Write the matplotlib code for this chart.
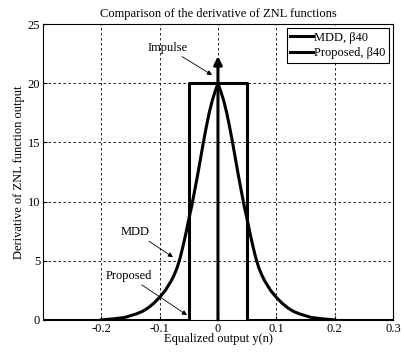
import matplotlib
matplotlib.use("Agg")
import matplotlib.pyplot as plt

plt.rcParams['font.family'] = ['Liberation Serif', 'DejaVu Serif']

# MDD derivative curve, right half; mirrored below
mdd_half_x = [0.0, 0.005, 0.01, 0.015, 0.02, 0.025, 0.03, 0.035, 0.04, 0.045, 0.05,
              0.055, 0.06, 0.065, 0.07, 0.075, 0.08, 0.09, 0.1, 0.11, 0.12, 0.13,
              0.14, 0.16, 0.18, 0.2]
mdd_half_y = [20.0, 19.3, 18.5, 17.5, 16.3, 15.0, 13.6, 12.2, 10.9, 9.6, 8.5,
              7.3, 6.2, 5.2, 4.4, 3.8, 3.3, 2.5, 1.9, 1.4, 1.0, 0.7,
              0.5, 0.2, 0.08, 0.0]
mdd_x = [-v for v in mdd_half_x[::-1]] + mdd_half_x[1:]
mdd_y = mdd_half_y[::-1] + mdd_half_y[1:]

# Proposed (rectangular) derivative
prop_x = [-0.3, -0.05, -0.05, 0.05, 0.05, 0.3]
prop_y = [0, 0, 20, 20, 0, 0]

# impulse at zero
imp_x = 0.0
imp_top = 22.3

fs = 9

fig = plt.figure(figsize=(4.04, 3.55), dpi=100)
ax = fig.add_axes([0.106, 0.099, 0.867, 0.833])

ax.plot(mdd_x, mdd_y, color='black', linewidth=2.2, label='MDD, β40')
ax.plot(prop_x, prop_y, color='black', linewidth=2.2, label='Proposed, β40')
ax.annotate('', xy=(imp_x, imp_top), xytext=(imp_x, 0),
            arrowprops=dict(arrowstyle='-|>', color='black', lw=2.2,
                            mutation_scale=12, shrinkA=0, shrinkB=0))

arrow = dict(arrowstyle='-|>', color='black', lw=0.6, mutation_scale=7,
             shrinkA=0, shrinkB=0)
ax.annotate('Impulse', xy=(-0.01, 20.7), xytext=(-0.086, 23.0),
            ha='center', va='center', fontsize=fs, arrowprops=arrow)
ax.annotate('MDD', xy=(-0.077, 5.3), xytext=(-0.141, 7.4),
            ha='center', va='center', fontsize=fs, arrowprops=arrow)
ax.annotate('Proposed', xy=(-0.053, 0.4), xytext=(-0.153, 3.7),
            ha='center', va='center', fontsize=fs, arrowprops=arrow)

ax.set_xlim(-0.3, 0.3)
ax.set_ylim(0, 25)
ax.set_xticks([-0.2, -0.1, 0, 0.1, 0.2, 0.3])
ax.set_xticklabels(['-0.2', '-0.1', '0', '0.1', '0.2', '0.3'])
ax.set_yticks([0, 5, 10, 15, 20, 25])
ax.tick_params(direction='in', length=3, labelsize=fs, pad=2)
ax.grid(True, color='black', linestyle=(0, (3, 3)), linewidth=0.6)

ax.set_title('Comparison of the derivative of ZNL functions', fontsize=fs, pad=5)
ax.set_xlabel('Equalized output y(n)', fontsize=fs, labelpad=-1)
ax.set_ylabel('Derivative of ZNL function output', fontsize=fs, labelpad=2)

leg = ax.legend(loc='upper right', fontsize=fs, handlelength=1.8,
                handletextpad=0.1, borderpad=0.3, labelspacing=0.3,
                fancybox=False, framealpha=1, edgecolor='black',
                borderaxespad=0.3)
leg.get_frame().set_linewidth(0.8)

fig.savefig('out.png', dpi=100)
